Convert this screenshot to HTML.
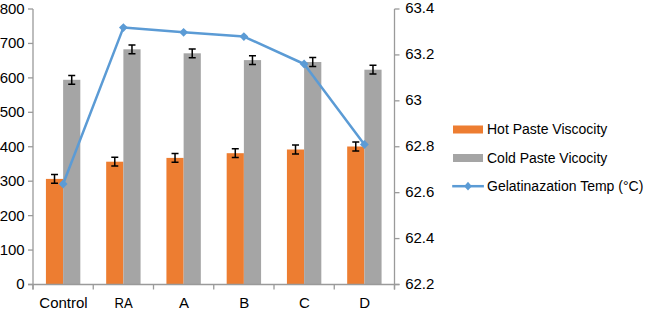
<!DOCTYPE html>
<html><head><meta charset="utf-8"><style>html,body{margin:0;padding:0;background:#fff;width:646px;height:313px;overflow:hidden}svg{display:block}text{font-family:"Liberation Sans",sans-serif}</style></head>
<body><svg width="646" height="313" viewBox="0 0 646 313"><rect width="646" height="313" fill="#fff"/><rect x="45.92" y="178.9" width="17.2" height="105.60" fill="#ED7D31"/><rect x="63.12" y="79.8" width="17.2" height="204.70" fill="#A5A5A5"/><rect x="106.17" y="161.7" width="17.2" height="122.80" fill="#ED7D31"/><rect x="123.38" y="49.3" width="17.2" height="235.20" fill="#A5A5A5"/><rect x="166.43" y="157.9" width="17.2" height="126.60" fill="#ED7D31"/><rect x="183.62" y="53.3" width="17.2" height="231.20" fill="#A5A5A5"/><rect x="226.68" y="153.2" width="17.2" height="131.30" fill="#ED7D31"/><rect x="243.88" y="60.1" width="17.2" height="224.40" fill="#A5A5A5"/><rect x="286.93" y="149.5" width="17.2" height="135.00" fill="#ED7D31"/><rect x="304.12" y="62.0" width="17.2" height="222.50" fill="#A5A5A5"/><rect x="347.18" y="146.5" width="17.2" height="138.00" fill="#ED7D31"/><rect x="364.38" y="69.7" width="17.2" height="214.80" fill="#A5A5A5"/><g stroke="#9a9a9a" stroke-width="1.3" fill="none"><line x1="33.0" y1="9.0" x2="33.0" y2="289.5"/><line x1="394.5" y1="9.0" x2="394.5" y2="289.5"/><line x1="28" y1="284.5" x2="399.5" y2="284.5"/><line x1="28" y1="9.00" x2="33.0" y2="9.00"/><line x1="28" y1="43.44" x2="33.0" y2="43.44"/><line x1="28" y1="77.88" x2="33.0" y2="77.88"/><line x1="28" y1="112.31" x2="33.0" y2="112.31"/><line x1="28" y1="146.75" x2="33.0" y2="146.75"/><line x1="28" y1="181.19" x2="33.0" y2="181.19"/><line x1="28" y1="215.62" x2="33.0" y2="215.62"/><line x1="28" y1="250.06" x2="33.0" y2="250.06"/><line x1="28" y1="284.50" x2="33.0" y2="284.50"/><line x1="394.5" y1="9.00" x2="399.5" y2="9.00"/><line x1="394.5" y1="54.92" x2="399.5" y2="54.92"/><line x1="394.5" y1="100.83" x2="399.5" y2="100.83"/><line x1="394.5" y1="146.75" x2="399.5" y2="146.75"/><line x1="394.5" y1="192.67" x2="399.5" y2="192.67"/><line x1="394.5" y1="238.58" x2="399.5" y2="238.58"/><line x1="394.5" y1="284.50" x2="399.5" y2="284.50"/><line x1="33.00" y1="284.5" x2="33.00" y2="289.5"/><line x1="93.25" y1="284.5" x2="93.25" y2="289.5"/><line x1="153.50" y1="284.5" x2="153.50" y2="289.5"/><line x1="213.75" y1="284.5" x2="213.75" y2="289.5"/><line x1="274.00" y1="284.5" x2="274.00" y2="289.5"/><line x1="334.25" y1="284.5" x2="334.25" y2="289.5"/><line x1="394.50" y1="284.5" x2="394.50" y2="289.5"/></g><g stroke="#000" stroke-width="1.5" fill="none"><path d="M51.02 174.50H58.02M54.52 174.50V183.30M51.02 183.30H58.02"/><path d="M68.22 75.40H75.22M71.72 75.40V84.20M68.22 84.20H75.22"/><path d="M111.28 157.30H118.28M114.78 157.30V166.10M111.28 166.10H118.28"/><path d="M128.47 44.90H135.47M131.97 44.90V53.70M128.47 53.70H135.47"/><path d="M171.53 153.50H178.53M175.03 153.50V162.30M171.53 162.30H178.53"/><path d="M188.72 48.90H195.72M192.22 48.90V57.70M188.72 57.70H195.72"/><path d="M231.78 148.80H238.78M235.28 148.80V157.60M231.78 157.60H238.78"/><path d="M248.97 55.70H255.97M252.47 55.70V64.50M248.97 64.50H255.97"/><path d="M292.02 145.10H299.02M295.52 145.10V153.90M292.02 153.90H299.02"/><path d="M309.23 57.60H316.23M312.73 57.60V66.40M309.23 66.40H316.23"/><path d="M352.27 142.10H359.27M355.77 142.10V150.90M352.27 150.90H359.27"/><path d="M369.48 65.30H376.48M372.98 65.30V74.10M369.48 74.10H376.48"/></g><polyline points="63.12,184.0 123.38,27.6 183.62,32.3 243.88,36.6 304.12,64.0 364.38,144.5" fill="none" stroke="#5B9BD5" stroke-width="2.5" stroke-linejoin="round"/><path d="M63.12 179.60L67.53 184.0L63.12 188.40L58.73 184.0Z" fill="#5B9BD5"/><path d="M123.38 23.20L127.78 27.6L123.38 32.00L118.97 27.6Z" fill="#5B9BD5"/><path d="M183.62 27.90L188.03 32.3L183.62 36.70L179.22 32.3Z" fill="#5B9BD5"/><path d="M243.88 32.20L248.28 36.6L243.88 41.00L239.47 36.6Z" fill="#5B9BD5"/><path d="M304.12 59.60L308.52 64.0L304.12 68.40L299.73 64.0Z" fill="#5B9BD5"/><path d="M364.38 140.10L368.77 144.5L364.38 148.90L359.98 144.5Z" fill="#5B9BD5"/><g font-family="Liberation Sans, sans-serif" font-size="15" fill="#000"><text x="24.7" y="13.90" text-anchor="end">800</text><text x="24.7" y="48.34" text-anchor="end">700</text><text x="24.7" y="82.78" text-anchor="end">600</text><text x="24.7" y="117.21" text-anchor="end">500</text><text x="24.7" y="151.65" text-anchor="end">400</text><text x="24.7" y="186.09" text-anchor="end">300</text><text x="24.7" y="220.53" text-anchor="end">200</text><text x="24.7" y="254.96" text-anchor="end">100</text><text x="24.7" y="289.40" text-anchor="end">0</text><text x="405.2" y="13.20">63.4</text><text x="405.2" y="59.12">63.2</text><text x="405.2" y="105.03">63</text><text x="405.2" y="150.95">62.8</text><text x="405.2" y="196.87">62.6</text><text x="405.2" y="242.78">62.4</text><text x="405.2" y="288.70">62.2</text><text x="63.52" y="307.6" text-anchor="middle">Control</text><text x="114.47" y="307.6" textLength="18.2" lengthAdjust="spacingAndGlyphs">RA</text><text x="184.03" y="307.6" text-anchor="middle">A</text><text x="244.28" y="307.6" text-anchor="middle">B</text><text x="304.52" y="307.6" text-anchor="middle">C</text><text x="364.77" y="307.6" text-anchor="middle">D</text></g><rect x="453" y="125.5" width="30" height="8" fill="#ED7D31"/><rect x="453" y="154" width="30" height="8" fill="#A5A5A5"/><line x1="452.2" y1="186.2" x2="483.9" y2="186.2" stroke="#5B9BD5" stroke-width="2.5"/><path d="M468 181.79999999999998L471.8 186.2L468 190.6L464.2 186.2Z" fill="#5B9BD5"/><g font-family="Liberation Sans, sans-serif" font-size="14" fill="#000" fill="#262626"><text x="487" y="133.8">Hot Paste Viscocity</text><text x="487" y="162.6">Cold Paste Vicocity</text><text x="487" y="191.2">Gelatinazation Temp (°C)</text></g></svg></body></html>
